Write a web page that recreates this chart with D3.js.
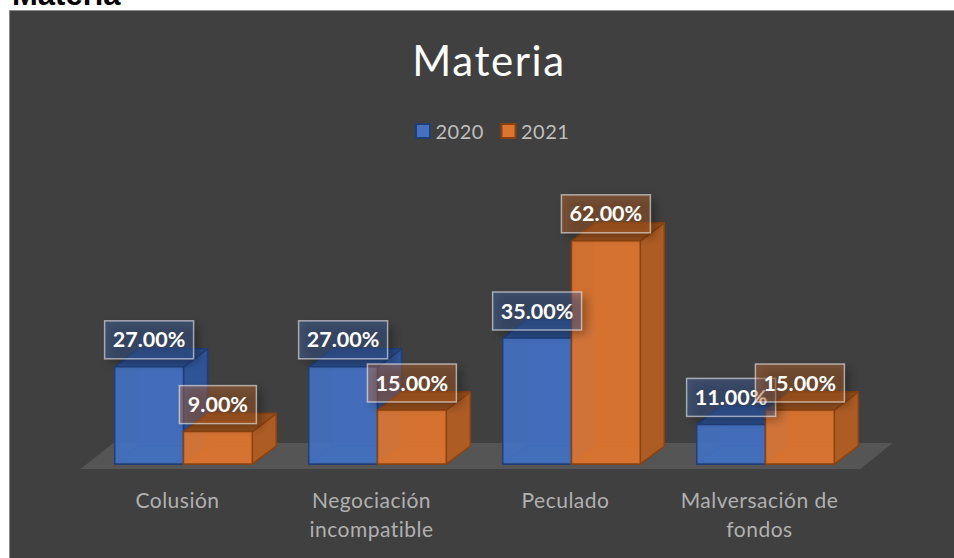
<!DOCTYPE html>
<html>
<head>
<meta charset="utf-8">
<script src="https://cdn.jsdelivr.net/npm/d3@7"></script>
<style>
  html, body { margin: 0; padding: 0; background: #fff; }
  svg { display: block; }
</style>
</head>
<body>
<svg class="materia" width="954" height="558"></svg>
<script>
const categories = ["Colusión", "Negociación incompatible", "Peculado", "Malversación de fondos"];
const categoryLines = [["Colusión"], ["Negociación", "incompatible"], ["Peculado"], ["Malversación de", "fondos"]];
const years = ["2020", "2021"];
const values2020 = [27, 27, 35, 11];
const values2021 = [9, 15, 62, 15];

const palette = {
  2020: { front: "#4470c0", side: "#2f5597", top: "#2a4c88", edge: "#203f78" },
  2021: { front: "#dd7530", side: "#ad5c24", top: "#96501d", edge: "#8a4210" },
};

const svg = d3.select("svg.materia"),
  width = +svg.attr("width"),
  height = +svg.attr("height"),
  depthX = 24,
  depthY = 18;

const defs = svg.append("defs");
defs.append("filter").attr("id", "labelShadow")
  .attr("x", "-30%").attr("y", "-50%").attr("width", "160%").attr("height", "200%")
  .append("feGaussianBlur")
  .attr("stdDeviation", 5);

// panel
svg.append("rect")
  .attr("x", 9.5).attr("y", 10.5)
  .attr("width", width).attr("height", height)
  .attr("fill", "#404040")
  .attr("stroke", "#8a8a8a");

// heading above the panel, cut by the top of the page
svg.append("text")
  .attr("x", 12).attr("y", 5)
  .attr("font-family", "Liberation Sans")
  .attr("font-weight", "bold")
  .attr("font-size", 31)
  .attr("fill", "#000")
  .text("Materia");

const x0 = d3.scaleBand().domain(categories).range([86.5, 862.5]);
const x1 = d3.scaleBand().domain(years).range([0, x0.bandwidth()]).paddingOuter(0.41);
const y = d3.scaleLinear().domain([0, 100]).range([464, 104]);

const rows = categories.flatMap((c, i) => [
  { category: c, year: "2020", value: values2020[i] },
  { category: c, year: "2021", value: values2021[i] },
]);

// floor
const floorLeft = x0.range()[0] - 6,
  floorRight = x0.range()[1] - 2,
  floorFront = y(0) + 5,
  floorBack = floorFront - 26;
svg.append("polygon")
  .attr("points", [
    [floorLeft, floorFront],
    [floorRight, floorFront],
    [floorRight + 32, floorBack],
    [floorLeft + 33, floorBack],
  ].join(" "))
  .attr("fill", "#555555");

const poly = (pts) => pts.map((p) => p.join(",")).join(" ");

svg.append("g").selectAll("g")
  .data(rows)
  .join("g")
  .each(function (d) {
    const g = d3.select(this),
      c = palette[d.year],
      l = x0(d.category) + x1(d.year),
      r = l + x1.bandwidth(),
      b = y(0),
      t = y(d.value);
    const face = (pts, fill, opacity) =>
      g.append("polygon")
        .attr("points", poly(pts))
        .attr("fill", fill)
        .attr("fill-opacity", opacity)
        .attr("stroke", c.edge)
        .attr("stroke-width", 1.5)
        .attr("stroke-linejoin", "round");
    // back and floor of the box show through the front
    face([[l + depthX, b - depthY], [r + depthX, b - depthY], [r + depthX, t - depthY], [l + depthX, t - depthY]], c.side, 0.5);
    face([[l, b], [r, b], [r + depthX, b - depthY], [l + depthX, b - depthY]], c.side, 0.5);
    face([[r, b], [r + depthX, b - depthY], [r + depthX, t - depthY], [r, t]], c.side, 1);
    face([[l, t], [r, t], [r + depthX, t - depthY], [l + depthX, t - depthY]], c.top, 1);
    face([[l, b], [r, b], [r, t], [l, t]], c.front, 0.93);
  });

// value labels
const labels = svg.append("g").selectAll("g")
  .data(rows)
  .join("g")
  .attr("transform", (d) => `translate(${x0(d.category) + x1(d.year) + x1.bandwidth() / 2},${y(d.value) - 27})`);

const boxX = (d) => (d.value < 10 ? -38.5 : -44.5),
  boxW = (d) => (d.value < 10 ? 77 : 89);

labels.append("rect")
  .attr("x", (d) => boxX(d) + 5)
  .attr("y", -15)
  .attr("width", boxW)
  .attr("height", 38)
  .attr("fill", "#000")
  .attr("fill-opacity", 0.3)
  .attr("filter", "url(#labelShadow)");

labels.append("rect")
  .attr("x", boxX)
  .attr("y", -19)
  .attr("width", boxW)
  .attr("height", 38)
  .attr("fill", (d) => palette[d.year].front)
  .attr("fill-opacity", 0.36)
  .attr("stroke", "#fff")
  .attr("stroke-opacity", 0.55)
  .attr("stroke-width", 1.5);

labels.append("text")
  .attr("text-anchor", "middle")
  .attr("dy", "0.35em")
  .attr("font-family", "Lato")
  .attr("font-weight", "bold")
  .attr("font-size", 21.5)
  .attr("fill", "#fff")
  .text((d) => d.value.toFixed(2) + "%");

// title
svg.append("text")
  .attr("x", 489).attr("y", 76)
  .attr("text-anchor", "middle")
  .attr("font-family", "Lato")
  .attr("font-size", 42)
  .attr("letter-spacing", 1.6)
  .attr("fill", "#fff")
  .text("Materia");

// legend
const legend = svg.append("g").selectAll("g")
  .data(years)
  .join("g")
  .attr("transform", (d, i) => `translate(${416 + i * 85.5},124)`);

legend.append("rect")
  .attr("width", 14).attr("height", 14)
  .attr("fill", (d) => palette[d].front)
  .attr("stroke", (d) => palette[d].edge)
  .attr("stroke-width", 2);

legend.append("text")
  .attr("x", 19.5).attr("y", 14.5)
  .attr("font-family", "Lato")
  .attr("font-size", 20)
  .attr("letter-spacing", 0.5)
  .attr("fill", "#bfbfbf")
  .text((d) => d);

// category labels
svg.append("g").selectAll("text")
  .data(categories)
  .join("text")
  .attr("text-anchor", "middle")
  .attr("font-family", "Lato")
  .attr("font-size", 21)
  .attr("letter-spacing", 0.5)
  .attr("fill", "#b0b0b0")
  .each(function (d, i) {
    d3.select(this).selectAll("tspan")
      .data(categoryLines[i])
      .join("tspan")
      .attr("x", x0(d) + x0.bandwidth() / 2 - 6)
      .attr("y", (t, j) => 508 + j * 29)
      .text((t) => t);
  });
</script>
</body>
</html>
